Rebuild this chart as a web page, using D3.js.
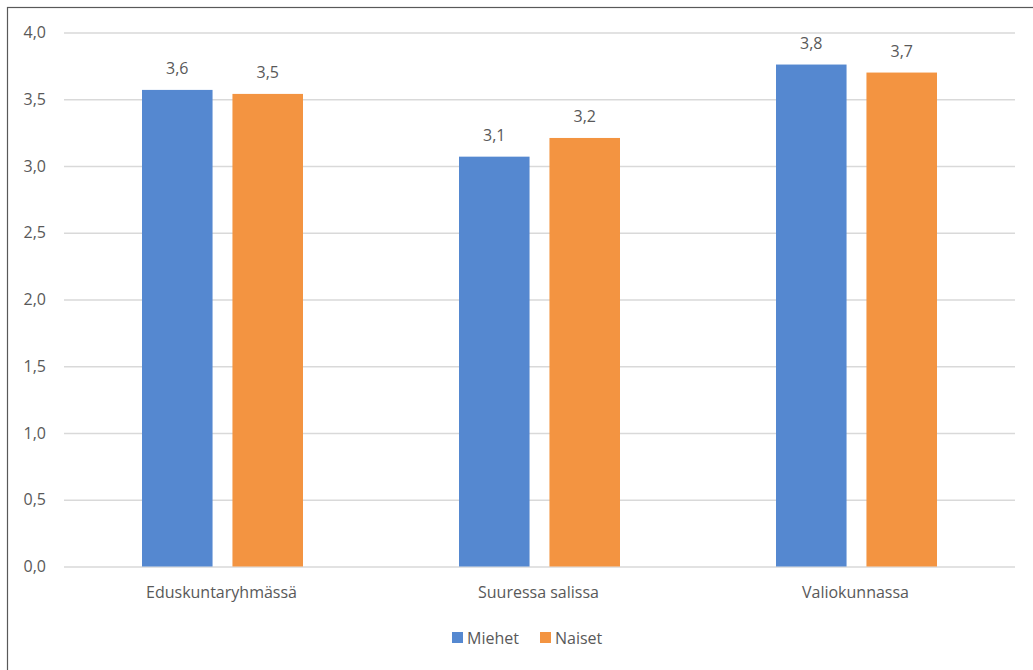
<!DOCTYPE html>
<html><head><meta charset="utf-8">
<script src="https://cdn.jsdelivr.net/npm/d3@7"></script>
<style>
html,body{margin:0;padding:0;background:#fff;}
svg{display:block;}
text{font-family:"Open Sans","Noto Sans",sans-serif;fill:#595959;}
</style></head>
<body>
<svg id="c" width="1033" height="670"></svg>
<script>
const categories = ["Eduskuntaryhmässä", "Suuressa salissa", "Valiokunnassa"];
const seriesNames = ["Miehet", "Naiset"];
const miehet = [3.57, 3.07, 3.76];
const naiset = [3.54, 3.21, 3.70];
const yTicks = [0, 0.5, 1.0, 1.5, 2.0, 2.5, 3.0, 3.5, 4.0];
const colors = ["#5588d0", "#f39441"];

const svg = d3.select("#c");
const W = 1033, H = 670;
const m = {left: 64, right: 1015, top: 32.5, bottom: 566.5};
const FS = 16;

// outer border
svg.append("rect").attr("x", 7.5).attr("y", 7.5).attr("width", W + 20).attr("height", H + 20)
  .attr("fill", "none").attr("stroke", "#595959").attr("stroke-width", 1.2);

const fmt = v => d3.format(".1f")(v).replace(".", ",");

const x0 = d3.scaleBand().domain(categories).range([m.left, m.right]).paddingInner(0).paddingOuter(0);
const y = d3.scaleLinear().domain([0, 4]).range([m.bottom, m.top]);
const x1 = d3.scaleBand().domain(seriesNames).range([0, 161]).paddingInner(0.22);

// gridlines
const yAxis = d3.axisLeft(y).tickValues(yTicks).tickSize(-(m.right - m.left)).tickFormat(fmt).tickPadding(18);
const ga = svg.append("g").attr("transform", `translate(${m.left},0)`).call(yAxis);
ga.select(".domain").remove();
ga.selectAll(".tick line").attr("stroke", "#d9d9d9").attr("stroke-width", 1.5);
ga.selectAll(".tick text").attr("font-size", FS).attr("fill", "#595959").attr("dy", "0.32em")
  .attr("font-family", '"Open Sans","Noto Sans",sans-serif');

const data = categories.map((c, i) => ({cat: c, vals: [miehet[i], naiset[i]]}));

const groups = svg.append("g").selectAll("g").data(data).join("g")
  .attr("transform", d => `translate(${x0(d.cat) + x0.bandwidth() / 2 - 80.5},0)`);

groups.selectAll("rect").data(d => d.vals.map((v, k) => ({s: seriesNames[k], v, k})))
  .join("rect")
  .attr("x", d => x1(d.s)).attr("width", x1.bandwidth())
  .attr("y", d => y(d.v)).attr("height", d => y(0) - y(d.v))
  .attr("fill", d => colors[d.k]);

groups.selectAll("text.lbl").data(d => d.vals.map((v, k) => ({s: seriesNames[k], v, k})))
  .join("text").attr("class", "lbl")
  .attr("x", d => x1(d.s) + x1.bandwidth() / 2).attr("y", d => y(d.v) - 16)
  .attr("text-anchor", "middle").attr("font-size", FS).text(d => fmt(d.v));

// x axis labels
svg.append("g").selectAll("text").data(categories).join("text")
  .attr("x", d => x0(d) + x0.bandwidth() / 2 - 1).attr("y", 598)
  .attr("text-anchor", "middle").attr("font-size", FS).text(d => d);

// legend
const lg = svg.append("g");
const lx = [452, 540];
seriesNames.forEach((s, k) => {
  lg.append("rect").attr("x", lx[k]).attr("y", 632).attr("width", 11).attr("height", 11).attr("fill", colors[k]);
  lg.append("text").attr("x", lx[k] + 15).attr("y", 644).attr("font-size", FS).text(s);
});
</script>
</body></html>
